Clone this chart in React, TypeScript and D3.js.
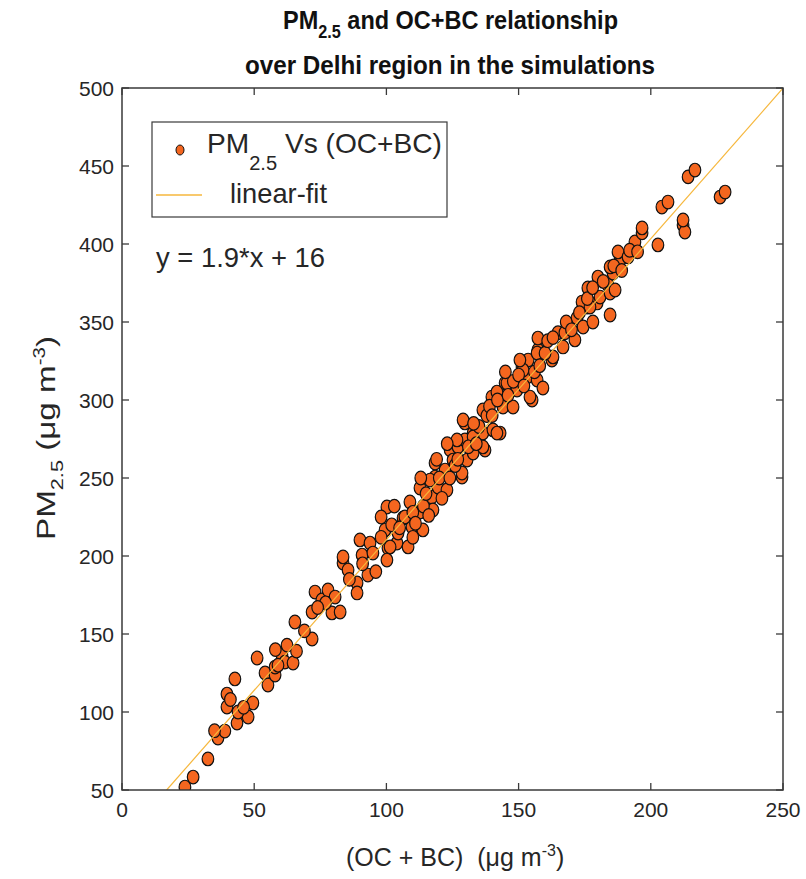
import React from "react";
import * as d3 from "d3";

// ---- data ----
const ocbc: number[] = [
  23.8, 26.9, 32.5, 36.3, 38.9, 43.5, 47.7, 49.5, 43.9, 39.7, 39.7, 42.7, 51.1, 54.1, 55.2, 57.9,
  57.9, 60.5, 62.4, 61.6, 64.7, 65.4, 71.9, 71.9, 73.0, 75.6, 77.9, 79.4, 82.5, 80.6, 83.6, 85.5,
  83.6, 88.9, 90.0, 90.8, 93.8, 93.0, 88.9, 100.2, 99.5, 100.6, 100.2, 104.0, 106.3, 108.9, 109.7,
  112.7, 112.7, 113.8, 117.2, 117.6, 118.4, 118.4, 119.5, 122.9, 122.2, 124.1, 125.2, 128.6, 127.1,
  129.7, 130.5, 132.8, 132.8, 136.5, 137.3, 129.7, 140.3, 104.4, 108.2, 94.9,
  126.7, 132.8, 136.5, 136.5, 139.9, 143.0, 144.1, 144.9, 147.9, 149.4, 151.3, 153.6, 153.2, 155.1,
  157.0, 157.3, 157.3, 159.2, 162.6, 164.9, 167.5, 166.8, 171.3, 172.1, 174.4, 178.1, 175.9, 179.7,
  184.6, 128.6,
  174.0, 177.0, 176.2, 180.0, 180.8, 183.8, 184.6, 186.5, 185.7, 184.6, 188.4, 187.6, 191.4, 194.0,
  196.7, 196.7, 202.7, 204.2, 206.5, 212.2, 212.9, 212.2, 214.1, 216.7, 226.2, 228.1,
  141.8, 145.6, 151.7, 150.5, 154.3, 157.0, 163.0, 129.0, 141.8, 101.4, 116.5, 107.0,
  96, 98, 102, 105, 110, 111, 114, 115, 116, 120, 121, 124, 126, 127, 131, 134, 135, 138, 139, 142,
  146, 148, 150, 152, 156, 158, 160, 161, 163, 168, 170, 173, 176, 178, 182, 186, 189, 192, 195,
  110, 113, 119, 123, 133, 140, 145, 103, 98, 91, 86, 77, 74, 69, 66, 59, 58, 46, 41, 35,
];
const pm25: number[] = [
  51.9, 58.3, 69.9, 83.3, 87.8, 92.9, 96.8, 105.8, 100.0, 103.2, 111.5, 121.2, 134.6, 125.0, 117.3, 123.7,
  128.8, 136.5, 142.9, 132.0, 131.4, 157.7, 146.8, 164.1, 176.9, 171.8, 178.2, 163.5, 164.1, 173.7, 195.5, 191.0,
  199.4, 182.7, 210.3, 200.6, 208.3, 187.8, 176.3, 231.4, 216.7, 205.1, 197.4, 208.3, 224.4, 234.6, 218.6,
  228.2, 243.6, 216.7, 237.8, 229.5, 259.6, 250.6, 244.2, 242.3, 255.1, 268.0, 261.5, 250.6, 269.9,
  274.4, 261.5, 266.0, 278.8, 278.8, 267.9, 285.3, 280.8, 214.7, 205.8, 201.9,
  274.4, 276.3, 269.9, 293.6, 301.9, 278.8, 295.5, 310.9, 295.5, 306.4, 321.2, 325.6, 314.7, 300.0,
  312.8, 332.1, 339.7, 307.7, 325.6, 343.1, 343.1, 334.0, 338.5, 352.6, 346.8, 350.0, 359.6, 362.2,
  354.5, 253.2,
  362.8, 359.6, 371.8, 378.8, 366.0, 373.7, 368.6, 370.5, 381.4, 385.3, 389.7, 394.9, 391.7, 401.3,
  407.1, 410.3, 399.4, 423.7, 426.9, 412.2, 407.7, 415.4, 443.0, 447.4, 430.1, 433.3,
  305.1, 310.9, 319.2, 325.6, 301.9, 330.1, 327.6, 287.2, 278.8, 205.8, 248.7, 225.0,
  190, 212, 220, 218, 228, 221, 232, 240, 226, 250, 237, 250, 258, 262, 270, 272, 283, 290, 296, 300,
  303, 312, 316, 309, 318, 322, 330, 338, 340, 350, 345, 356, 365, 372, 376, 386, 383, 396, 395,
  212, 250, 262, 272, 285, 290, 318, 232, 225, 195, 185, 170, 167, 152, 139, 130, 140, 103, 108, 88,
];
const xTicks: number[] = [0, 50, 100, 150, 200, 250];
const yTicks: number[] = [50, 100, 150, 200, 250, 300, 350, 400, 450, 500];
const xDomain: [number, number] = [0, 250];
const yDomain: [number, number] = [50, 500];
const fitSlope = 1.93;
const fitIntercept = 17.4;
const equationText = "y = 1.9*x + 16";
const titleLine2 = "over Delhi region in the simulations";

const W = 806;
const H = 879;
const L = 122, R = 783, T = 88, B = 790;
const AX = "#3a3a3a";
const TXT = "#262626";
const ORANGE = "#f4661f";
const FITC = "#f6b73c";
const FONT = "'Liberation Sans', Arial, Helvetica, sans-serif";

export default function App() {
  const x = d3.scaleLinear().domain(xDomain).range([L, R]);
  const y = d3.scaleLinear().domain(yDomain).range([B, T]);
  const pts = ocbc.map((v, i) => [v, pm25[i]] as [number, number]);
  const fx0 = (yDomain[0] - fitIntercept) / fitSlope;
  const fx1 = xDomain[1];
  const fitLine = d3.line<number>()
    .x((d) => x(d))
    .y((d) => y(fitSlope * d + fitIntercept));
  const tk = 7;
  return (
    <svg width={W} height={H} style={{ position: "absolute", left: 0, top: 0, background: "#fff" }} fontFamily={FONT}>
      <rect x={0} y={0} width={W} height={H} fill="#fff" />
      {/* title */}
      <text x={283} y={29} fontWeight="bold" fontSize={26} fill="#111" textLength={335} lengthAdjust="spacingAndGlyphs">
        PM<tspan fontSize={18} dy={9}>2.5</tspan><tspan dy={-9}> and OC+BC relationship</tspan>
      </text>
      <text x={245} y={74} fontWeight="bold" fontSize={26} fill="#111" textLength={410} lengthAdjust="spacingAndGlyphs">
        {titleLine2}
      </text>
      <defs>
        <clipPath id="plotclip">
          <rect x={L} y={T} width={R - L} height={B - T} />
        </clipPath>
      </defs>
      {/* points */}
      <g clipPath="url(#plotclip)">
        {pts.map((p, i) => (
          <ellipse key={i} cx={x(p[0])} cy={y(p[1])} rx={5.8} ry={6.8} fill={ORANGE} stroke="#111" strokeWidth={1.2} />
        ))}
        <path d={fitLine([fx0, fx1]) || ""} fill="none" stroke={FITC} strokeWidth={1.2} />
      </g>
      {/* frame */}
      <rect x={L} y={T} width={R - L} height={B - T} fill="none" stroke={AX} strokeWidth={1.5} />
      {xTicks.map((t) => (
        <g key={"x" + t}>
          <line x1={x(t)} x2={x(t)} y1={B} y2={B - tk} stroke={AX} strokeWidth={1.3} />
          <line x1={x(t)} x2={x(t)} y1={T} y2={T + tk} stroke={AX} strokeWidth={1.3} />
          <text x={x(t)} y={B + 27} textAnchor="middle" fontSize={21} fill={TXT}>{t}</text>
        </g>
      ))}
      {yTicks.map((t) => (
        <g key={"y" + t}>
          <line x1={L} x2={L + tk} y1={y(t)} y2={y(t)} stroke={AX} strokeWidth={1.3} />
          <line x1={R} x2={R - tk} y1={y(t)} y2={y(t)} stroke={AX} strokeWidth={1.3} />
          <text x={L - 8} y={y(t) + 7.5} textAnchor="end" fontSize={21} fill={TXT}>{t}</text>
        </g>
      ))}
      {/* axis labels */}
      <text x={346} y={866} fontSize={25} fill={TXT}>
        {"(OC + BC)\u00A0\u00A0(\u03BCg m"}<tspan fontSize={16} dy={-10}>-3</tspan><tspan dy={10}>)</tspan>
      </text>
      <text transform={`translate(55,${540}) rotate(-90)`} fontSize={26} fill={TXT} textLength={204} lengthAdjust="spacingAndGlyphs">
        PM<tspan fontSize={17} dy={8}>2.5</tspan><tspan dy={-8}>{" (\u03BCg m"}</tspan><tspan fontSize={16} dy={-10}>-3</tspan><tspan dy={10}>)</tspan>
      </text>
      {/* legend */}
      <rect x={152} y={122} width={295} height={95} fill="#fff" stroke={AX} strokeWidth={1.2} />
      <ellipse cx={180} cy={150} rx={4} ry={5} fill={ORANGE} stroke="#111" strokeWidth={1} />
      <text x={207} y={153} fontSize={28} fill={TXT} textLength={235} lengthAdjust="spacingAndGlyphs">
        PM<tspan fontSize={20} dy={17}>2.5</tspan><tspan dy={-17}> Vs (OC+BC)</tspan>
      </text>
      <line x1={156} x2={202} y1={195} y2={195} stroke={FITC} strokeWidth={1.5} />
      <text x={230} y={203} fontSize={28} fill={TXT} textLength={97} lengthAdjust="spacingAndGlyphs">linear-fit</text>
      {/* equation */}
      <text x={156} y={267} fontSize={28} fill={TXT} textLength={169} lengthAdjust="spacingAndGlyphs">{equationText}</text>
    </svg>
  );
}
